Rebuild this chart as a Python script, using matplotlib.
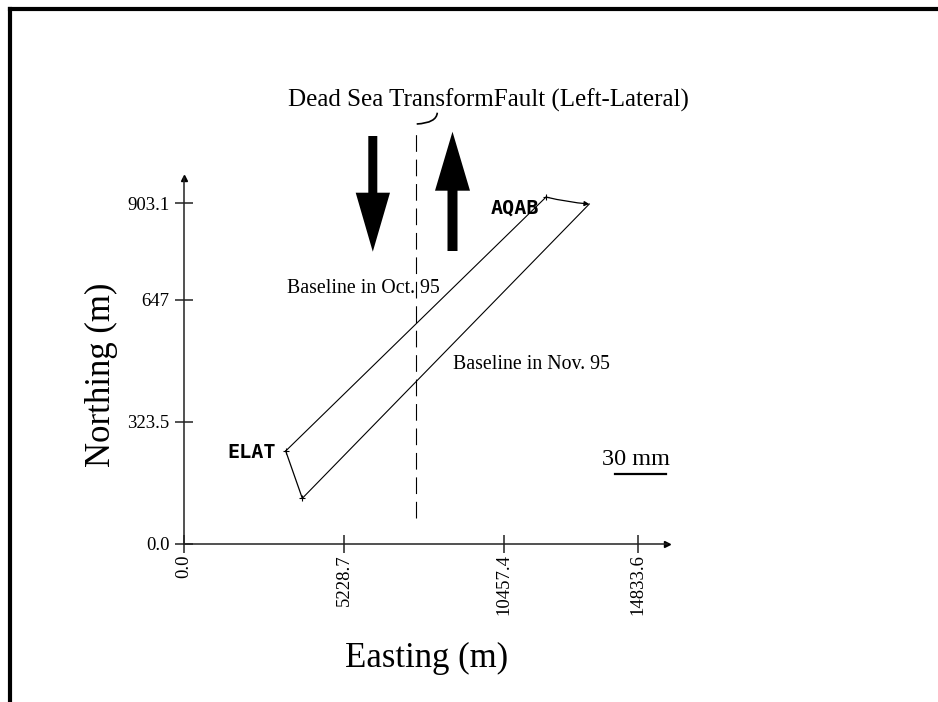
import matplotlib
matplotlib.use("Agg")
import matplotlib.pyplot as plt
from matplotlib.lines import Line2D
from matplotlib.patches import Polygon, PathPatch
from matplotlib.path import Path

# ---------------- data ----------------
oct_east = [3326, 11840]      # ELAT -> AQAB, baseline Oct. 95
oct_north = [246.5, 919.5]
nov_east = [3869, 13254]      # ELAT -> AQAB, baseline Nov. 95
nov_north = [121.1, 901.1]
fault_east = [7577, 7577]     # Dead Sea Transform fault trace
fault_north = [69, 1097]
x_ticks = [0.0, 5228.7, 10457.4, 14833.6]
x_tick_labels = ["0.0", "5228.7", "10457.4", "14833.6"]
y_ticks = [0.0, 323.5, 647, 903.1]
y_tick_labels = ["0.0", "323.5", "647", "903.1"]
stations = ["ELAT", "AQAB"]

W, H = 938, 702
SERIF = ["Liberation Serif", "DejaVu Serif"]


def P(x, y):
    """pixel position -> figure fraction"""
    return (x / W, 1 - y / H)


fig = plt.figure(figsize=(W / 100, H / 100), dpi=100)
fig.patch.set_facecolor("white")

ax = fig.add_axes([184 / W, 1 - 544 / H, (667 - 184) / W, (544 - 178) / H])
ax.set_xlim(0, 15795)
ax.set_ylim(0, 970)
ax.set_facecolor("none")
for s in ["top", "right"]:
    ax.spines[s].set_visible(False)
for s in ["left", "bottom"]:
    ax.spines[s].set_linewidth(1.1)
    ax.spines[s].set_color("#222222")

# axis arrow heads
ax.plot(1, 0, marker=">", ms=5, color="k", transform=ax.transAxes, clip_on=False)
ax.plot(0, 1, marker="^", ms=5, color="k", transform=ax.transAxes, clip_on=False)

ax.set_xticks(x_ticks)
ax.set_xticklabels(x_tick_labels, rotation=90, family=SERIF, fontsize=13.5)
ax.set_yticks(y_ticks)
ax.set_yticklabels(y_tick_labels, family=SERIF, fontsize=13.5)
ax.tick_params(axis="both", direction="inout", length=13, width=1.1, color="#222222")
ax.tick_params(axis="x", pad=1)
ax.tick_params(axis="y", pad=4)

# baselines
ax.plot(oct_east, oct_north, color="k", lw=0.8)
ax.plot(nov_east, nov_north, color="k", lw=0.8)
# ELAT displacement
ax.plot([oct_east[0], nov_east[0]], [oct_north[0], nov_north[0]], color="k", lw=0.9)
ax.plot([oct_east[0], nov_east[0]], [oct_north[0], nov_north[0]], ls="none",
        marker="+", ms=4, mew=0.8, color="k")
# AQAB displacement
ax.annotate("", xy=(nov_east[1], nov_north[1]), xytext=(oct_east[1], oct_north[1]),
            arrowprops=dict(arrowstyle="-|>", lw=0.9, color="k", mutation_scale=7,
                            shrinkA=0, shrinkB=0, connectionstyle="arc3,rad=0.04"),
            annotation_clip=False)
ax.plot([oct_east[1]], [oct_north[1]], ls="none", marker="+", ms=4, mew=0.8, color="k",
        clip_on=False)

# fault trace
ax.plot(fault_east, fault_north, color="k", lw=0.8, dashes=(15, 7), clip_on=False)

# labels
fig.text(*P(488, 107), "Dead Sea TransformFault (Left-Lateral)", family=SERIF,
         fontsize=18, ha="center", va="baseline")
fig.text(*P(287.3, 293.3), "Baseline in Oct. 95", family=SERIF, fontsize=14.3,
         ha="left", va="baseline")
fig.text(*P(452.7, 369), "Baseline in Nov. 95", family=SERIF, fontsize=14.3,
         ha="left", va="baseline")
fig.text(*P(601.7, 465), "30 mm", family=SERIF, fontsize=17.5, ha="left", va="baseline")
fig.add_artist(Line2D([615 / W, 666 / W], [1 - 474 / H] * 2, color="k", lw=1.6))

fig.text(*P(276, 457.7), stations[0], family=["DejaVu Sans Mono"], weight="bold",
         fontsize=14.5, ha="right", va="baseline")
fig.text(*P(491, 213.3), stations[1], family=["DejaVu Sans Mono"], weight="bold",
         fontsize=14.5, ha="left", va="baseline")

fig.text(*P(427, 667), "Easting (m)", family=SERIF, fontsize=25, ha="center",
         va="baseline")
fig.text(*P(110, 375), "Northing (m)", family=SERIF, fontsize=25, ha="center",
         va="baseline", rotation=90, rotation_mode="anchor")

# big motion arrows
down = [(368.3, 136), (377.3, 136), (377.3, 192.7), (390, 192.7), (372.8, 251.7),
        (355.7, 192.7), (368.3, 192.7)]
up = [(452.5, 131.7), (470, 190.7), (457.5, 190.7), (457.5, 251), (447.5, 251),
      (447.5, 190.7), (435, 190.7)]
for poly in (down, up):
    fig.add_artist(Polygon([P(x, y) for x, y in poly], closed=True, facecolor="k",
                           edgecolor="k", lw=0, transform=fig.transFigure))

# bracket linking fault trace with its label
bracket = Path([P(416.7, 124), P(436.5, 123), P(437.3, 112.7)],
               [Path.MOVETO, Path.CURVE3, Path.CURVE3])
fig.add_artist(PathPatch(bracket, fill=False, lw=1.2, edgecolor="k",
                         transform=fig.transFigure))

# frame (left and top)
fig.add_artist(Line2D([10 / W, 10 / W], [0, 1 - 9 / H], color="k", lw=3,
                      solid_capstyle="projecting"))
fig.add_artist(Line2D([10 / W, 1], [1 - 9 / H] * 2, color="k", lw=3,
                      solid_capstyle="projecting"))

fig.savefig("out.png", dpi=100, facecolor="white")
